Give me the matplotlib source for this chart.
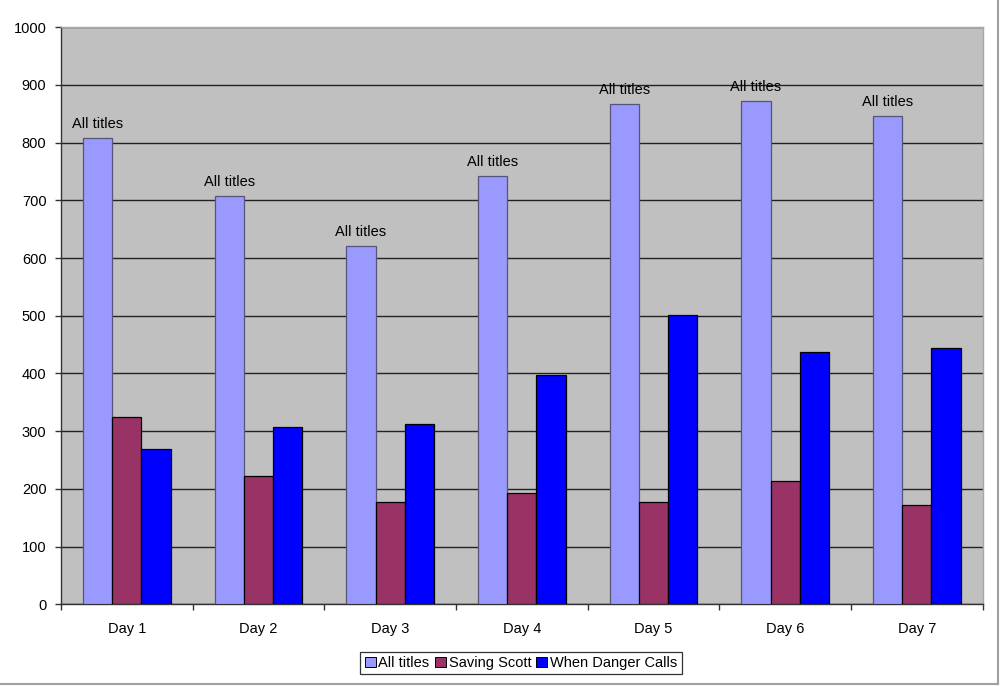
import matplotlib
matplotlib.use("Agg")
import matplotlib.pyplot as plt
import numpy as np
from matplotlib.lines import Line2D

plt.rcParams['font.family'] = ['Liberation Sans', 'DejaVu Sans']

days = ["Day 1", "Day 2", "Day 3", "Day 4", "Day 5", "Day 6", "Day 7"]
series_names = ["All titles", "Saving Scott", "When Danger Calls"]
all_titles = [808, 707, 621, 742, 867, 873, 847]
saving_scott = [324, 222, 177, 192, 178, 213, 172]
when_danger_calls = [269, 307, 313, 397, 502, 437, 445]
bar_label = "All titles"
y_ticks = [0, 100, 200, 300, 400, 500, 600, 700, 800, 900, 1000]

colors = ["#9999FF", "#993366", "#0000FF"]
edgecolors = ["#555577", "#000000", "#000000"]

fig = plt.figure(figsize=(10, 6.87), dpi=100)
ax = fig.add_axes([0.061, 0.1204, 0.9217, 0.8399])
ax.set_facecolor("#C0C0C0")

x = np.arange(len(days))
w = 1 / 4.5
data = [all_titles, saving_scott, when_danger_calls]
bars_all = None
for i, (vals, c, ec, name) in enumerate(zip(data, colors, edgecolors, series_names)):
    b = ax.bar(x + (i - 1) * w, vals, width=w, color=c, edgecolor=ec,
               linewidth=0.9, label=name, zorder=3)
    if i == 0:
        bars_all = b

for rect in bars_all:
    ax.annotate(bar_label, (rect.get_x() + rect.get_width() / 2, rect.get_height()),
                xytext=(0, 5), textcoords="offset points", ha="center", va="bottom",
                fontsize=10.5, color="black", zorder=4)

ax.set_xlim(-0.5, len(days) - 0.5)
ax.set_ylim(0, 1000)
ax.set_yticks(y_ticks)
ax.set_yticklabels([str(v) for v in y_ticks], fontsize=10.5)
ax.yaxis.grid(True, color="#222222", linewidth=1.0, zorder=1)
ax.set_axisbelow(True)

ax.set_xticks(x)
ax.set_xticklabels(days, fontsize=10.5)
ax.set_xticks(np.arange(len(days) + 1) - 0.5, minor=True)
ax.tick_params(axis="x", which="major", length=0, pad=13)
ax.tick_params(axis="x", which="minor", length=4, width=1, color="#333333", direction="out")
ax.tick_params(axis="y", which="major", length=4.5, width=1, color="#333333", pad=6, direction="out")

for s in ["left", "bottom"]:
    ax.spines[s].set_color("#333333")
    ax.spines[s].set_linewidth(1.0)
for s in ["top", "right"]:
    ax.spines[s].set_color("#A8A8A8")
    ax.spines[s].set_linewidth(1.0)

leg = fig.legend(loc="center", bbox_to_anchor=(0.521, 0.035), ncol=3, fontsize=10.5,
                 frameon=True, fancybox=False, shadow=False, handlelength=0.75,
                 handleheight=0.75, handletextpad=0.2, columnspacing=0.35,
                 borderpad=0.3, borderaxespad=0)
leg.get_frame().set_edgecolor("#000000")
leg.get_frame().set_linewidth(0.9)
for h in leg.legend_handles:
    h.set_edgecolor("#000000")
    h.set_linewidth(0.7)

# chart-area border (right and bottom)
fig.add_artist(Line2D([0.9975, 0.9975], [1.0, 1 - 684 / 687], transform=fig.transFigure,
                      color="#A0A0A0", linewidth=1.5))
fig.add_artist(Line2D([0.0, 0.9975], [1 - 684 / 687, 1 - 684 / 687], transform=fig.transFigure,
                      color="#A0A0A0", linewidth=1.5))

fig.savefig("out.png", dpi=100)
